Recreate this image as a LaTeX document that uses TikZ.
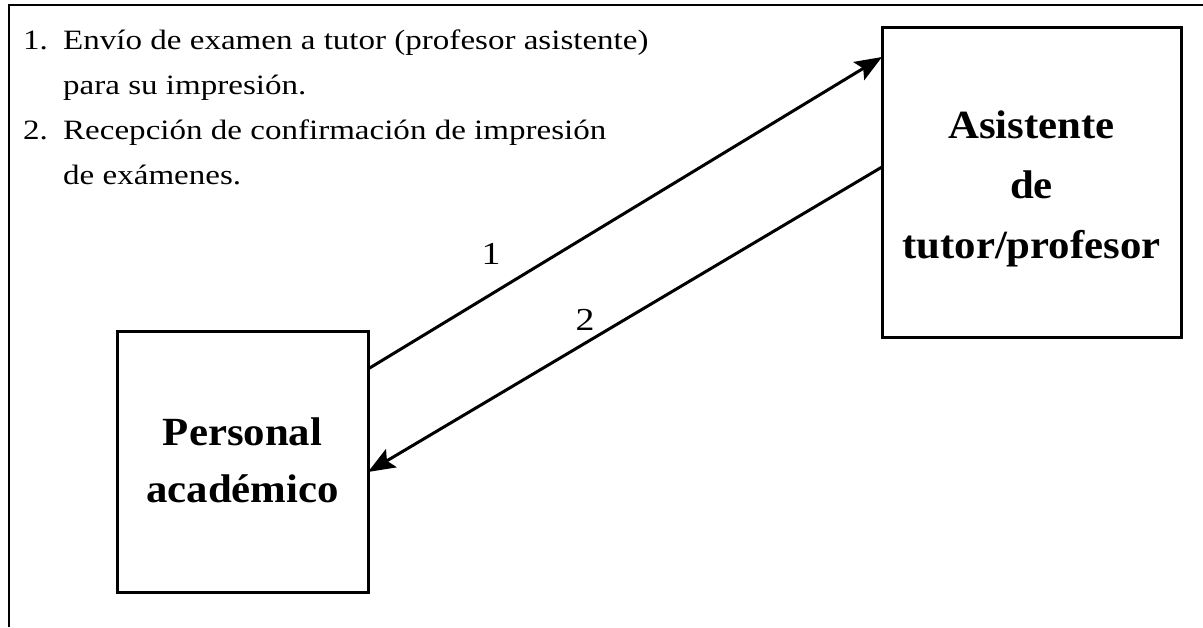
\documentclass[tikz,border=0pt]{standalone}
\usepackage{fontspec}
\setmainfont{Liberation Serif}
\newfontfamily\itemfont[FakeStretch=1.18]{Liberation Serif}
\newfontfamily\boxfont[FakeStretch=1.07]{Liberation Serif}
\usetikzlibrary{arrows.meta}
\begin{document}
\begin{tikzpicture}[x=1pt,y=-1pt,
  box/.style={draw,line width=3pt,inner sep=0pt,outer sep=0pt},
  item/.style={anchor=base west,inner sep=0pt,font=\itemfont\fontsize{28}{32}\selectfont},
  bold/.style={anchor=base,inner sep=0pt,font=\boxfont\fontsize{40}{46}\selectfont\bfseries},
  num/.style={inner sep=0pt,font=\itemfont\fontsize{32}{36}\selectfont},
  arr/.style={line width=3pt,-{Stealth[length=27pt,width=21pt,inset=5pt]}},
  frame/.style={line width=2.5pt}]
\useasboundingbox (0,0) rectangle (1203,627);
% frame
\coordinate (fa) at (9,627);
\coordinate (fb) at (9,5);
\coordinate (fc) at (1203,5);
\draw[frame] (fa) -- (fb) -- (fc);
% list
\node[item] (n1) at (23,49) {1.};
\node[item] (t1) at (63,49) {Envío de examen a tutor (profesor asistente)};
\node[item] (t1b) at (63,94) {para su impresión.};
\node[item] (n2) at (23,139) {2.};
\node[item] (t2) at (63,139) {Recepción de confirmación de impresión};
\node[item] (t2b) at (63,184) {de exámenes.};
% boxes
\node[box,minimum width=251pt,minimum height=261pt] (pa) at (242.5,461.5) {};
\node[box,minimum width=299pt,minimum height=310pt] (asi) at (1031.5,182) {};
\node[bold] (pa1) at (242.5,445) {Personal};
\node[bold] (pa2) at (242.5,502) {académico};
\node[bold] (as1) at (1031.5,138) {Asistente};
\node[bold] (as2) at (1031.5,198) {de};
\node[bold] (as3) at (1031.5,258) {tutor/profesor};
% arrows
\draw[arr] ([yshift=-38pt]pa.north east) -- ([yshift=-30pt]asi.north west);
\draw[arr] ([yshift=-140pt]asi.north west) -- ([yshift=-141pt]pa.north east);
\node[num] (l1) at (491,254) {1};
\node[num] (l2) at (585,320) {2};
\end{tikzpicture}
\end{document}
